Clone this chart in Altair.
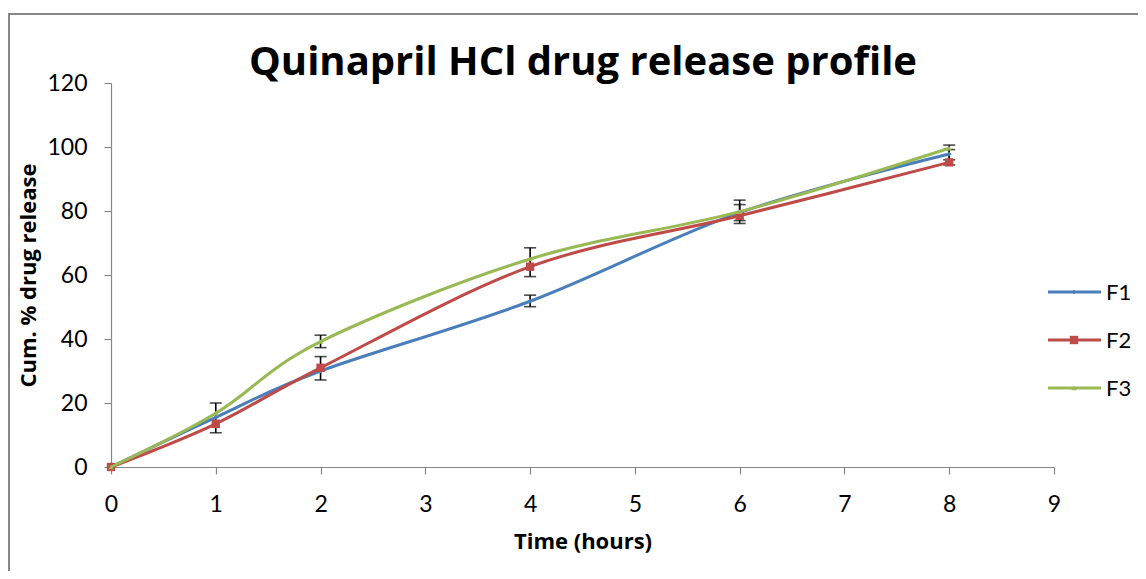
import altair as alt
import pandas as pd

time_h = [0, 1, 2, 4, 6, 8]
f1 = [0, 15.5, 30.0, 51.8, 79.5, 97.8]
f2 = [0, 13.5, 31.0, 62.6, 78.5, 95.2]
f3 = [0, 16.8, 39.2, 65.0, 79.8, 99.6]

err_x = [1, 2, 2, 4, 4, 6, 6, 8, 8]
err_low = [10.7, 27.2, 37.3, 59.5, 50.1, 76.1, 77.0, 94.4, 96.0]
err_high = [20.0, 34.5, 41.2, 68.5, 53.7, 83.4, 82.0, 100.6, 99.2]

series_names = ["F1", "F2", "F3"]
colors = ["#4A7EBB", "#BE4B48", "#98B954"]
shapes = ["diamond", "square", "triangle-up"]
sizes = [22, 70, 28]

title_text = "Quinapril HCl drug release profile"
FONT = "Lato"
TFONT = "Open Sans"

rows = []
for name, vals in zip(series_names, [f1, f2, f3]):
    for t, v in zip(time_h, vals):
        rows.append({"series": name, "time": t, "value": v})
df = pd.DataFrame(rows)
err_df = pd.DataFrame({"time": err_x, "low": err_low, "high": err_high})

xscale = alt.Scale(domain=[0, 9], nice=False)
yscale = alt.Scale(domain=[0, 120], nice=False)

layers = []
# error bars
eb = alt.Chart(err_df)
layers.append(eb.mark_rule(color="black", strokeWidth=1.6).encode(
    x=alt.X("time:Q", scale=xscale), y=alt.Y("low:Q", scale=yscale), y2="high:Q"))
layers.append(eb.mark_tick(color="black", thickness=1.6, size=12, orient="horizontal").encode(
    x="time:Q", y="low:Q"))
layers.append(eb.mark_tick(color="black", thickness=1.6, size=12, orient="horizontal").encode(
    x="time:Q", y="high:Q"))

for i, name in enumerate(series_names):
    sub = df[df.series == name]
    base = alt.Chart(sub)
    line = base.mark_line(interpolate="cardinal", strokeWidth=3, color=colors[i]).encode(
        x=alt.X("time:Q", scale=xscale,
                axis=alt.Axis(title="Time (hours)", values=list(range(10)), format="d")),
        y=alt.Y("value:Q", scale=yscale,
                axis=alt.Axis(title="Cum. % drug release", values=list(range(0, 121, 20)))),
    )
    pts = base.mark_point(shape=shapes[i], filled=True, size=sizes[i], color=colors[i], opacity=1).encode(
        x="time:Q", y="value:Q"
    )
    layers += [line, pts]

# manual legend
leg_y = [209, 257, 305]
for i, name in enumerate(series_names):
    ld = pd.DataFrame({"series": [name]})
    lb = alt.Chart(ld)
    layers.append(lb.mark_rule(strokeWidth=3, color=colors[i]).encode(
        x=alt.value(937), x2=alt.value(990), y=alt.value(leg_y[i])))
    layers.append(lb.mark_point(shape=shapes[i], filled=True, size=sizes[i], color=colors[i], opacity=1).encode(
        x=alt.value(963), y=alt.value(leg_y[i])))
    layers.append(lb.mark_text(align="left", baseline="middle", font=FONT, fontSize=22, color="black").encode(
        x=alt.value(995), y=alt.value(leg_y[i] + 1), text="series:N"))

# title as text
layers.append(alt.Chart(pd.DataFrame({"t": [title_text]})).mark_text(
    align="center", baseline="alphabetic", font=TFONT, fontSize=40, fontWeight="bold", color="black"
).encode(x=alt.value(472), y=alt.value(-8), text="t:N"))

# outer border
border = alt.Chart(pd.DataFrame({"a": [0]})).mark_rect(fill=None, stroke="#868686", strokeWidth=2).encode(
    x=alt.value(-102), x2=alt.value(1200), y=alt.value(-69), y2=alt.value(600))
layers.append(border)

chart = alt.layer(*layers).properties(
    width=943,
    height=384,
    autosize=alt.AutoSizeParams(type="none"),
    padding={"left": 103, "top": 75, "right": 84, "bottom": 104},
).configure_view(stroke=None).configure_axis(
    domainColor="#868686", tickColor="#868686", grid=False, domainWidth=1.2, tickWidth=1.2,
    tickSize=7, labelFont=FONT, labelFontSize=23, labelColor="black", labelFlush=False,
    titleFont=TFONT, titleFontSize=22, titleFontWeight="bold", titleColor="black",
).configure_axisX(labelPadding=19, titlePadding=15).configure_axisY(labelPadding=17, titlePadding=6)

chart.save("out.html", embed_options={"renderer": "svg", "actions": False})
